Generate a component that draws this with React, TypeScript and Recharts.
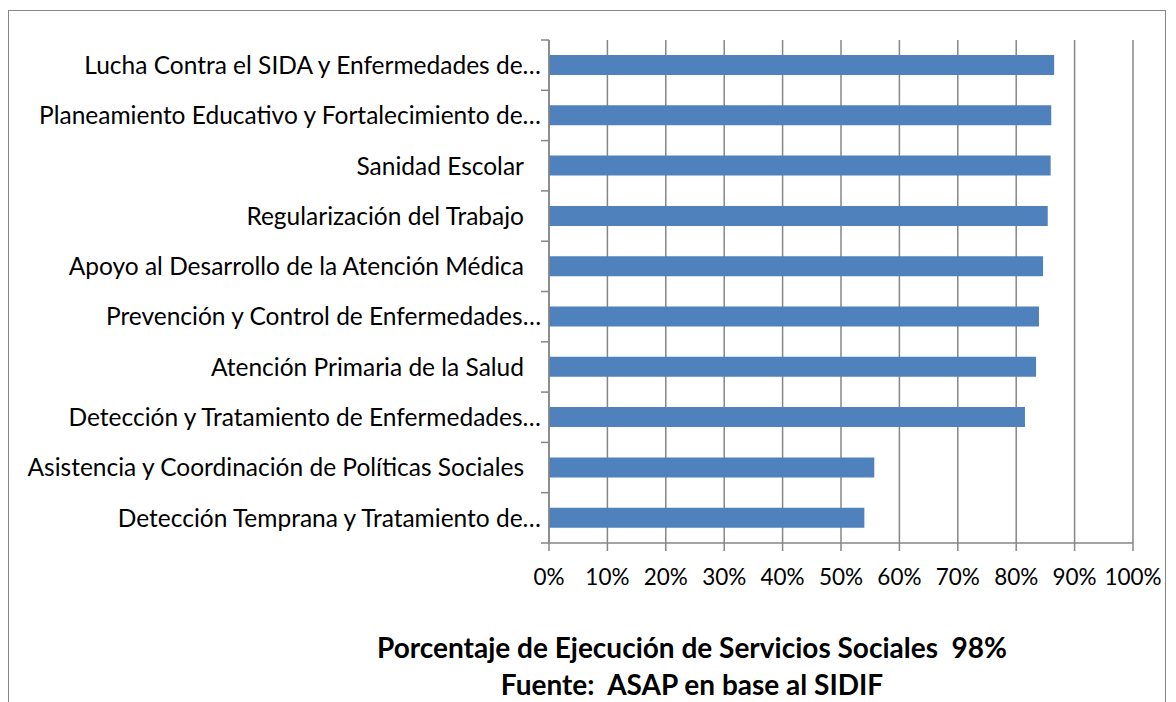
import * as React from 'react';
import { Bar, BarChart, CartesianGrid, XAxis, YAxis } from 'recharts';

// categories top to bottom, as the chart shows them
const categories = [
  'Lucha Contra el SIDA y Enfermedades de…',
  'Planeamiento Educativo y Fortalecimiento de…',
  'Sanidad Escolar',
  'Regularización del Trabajo',
  'Apoyo al Desarrollo de la Atención Médica',
  'Prevención y Control de Enfermedades…',
  'Atención Primaria de la Salud',
  'Detección y Tratamiento de Enfermedades…',
  'Asistencia y Coordinación de Políticas Sociales',
  'Detección Temprana y Tratamiento de…',
];

// execution share (0..1)
const execution = [0.865, 0.86, 0.859, 0.854, 0.846, 0.839, 0.834, 0.815, 0.557, 0.54];

const xTicks = [0, 0.1, 0.2, 0.3, 0.4, 0.5, 0.6, 0.7, 0.8, 0.9, 1];

const title = 'Porcentaje de Ejecución de Servicios Sociales  98%';
const subtitle = 'Fuente:  ASAP en base al SIDIF';

const data = categories.map((name, i) => ({ name, value: execution[i] }));

const FONT = 'Lato, "Open Sans", sans-serif';
const GREY = '#868686';

function CategoryTick(props: any) {
  const { x, y, payload, index, visibleTicksCount } = props;
  const half = payload.offset || 25;
  const label = String(payload.value);
  const truncated = label.endsWith('…');
  const isLast = index === visibleTicksCount - 1;
  return (
    <g>
      <line x1={x - 8} x2={x} y1={y - half} y2={y - half} stroke={GREY} strokeWidth={1.5} />
      {isLast && (
        <line x1={x - 8} x2={x} y1={y + half} y2={y + half} stroke={GREY} strokeWidth={1.5} />
      )}
      <text
        x={truncated ? x - 8 : x - 25}
        y={y}
        dy="0.36em"
        textAnchor="end"
        fill="#000"
        fontSize={24.5}
        fontFamily={FONT}
      >
        {label}
      </text>
    </g>
  );
}

export default function App(): React.JSX.Element {
  return (
    <div
      style={{
        position: 'absolute',
        left: 0,
        top: 0,
        width: 1176,
        height: 702,
        overflow: 'hidden',
        background: '#fff',
        fontFamily: FONT,
      }}
    >
      <div
        style={{
          position: 'absolute',
          left: 8,
          top: 10,
          width: 1158,
          height: 720,
          border: `1.5px solid ${GREY}`,
          boxSizing: 'border-box',
        }}
      />
      <div style={{ position: 'absolute', left: 0, top: 0 }}>
        <BarChart
          width={1176}
          height={702}
          data={data}
          layout="vertical"
          margin={{ top: 40, right: 43, bottom: 119, left: 0 }}
          barSize={20}
        >
          <CartesianGrid horizontal={false} vertical stroke={GREY} strokeWidth={1.5} />
          <XAxis
            type="number"
            domain={[0, 1]}
            ticks={xTicks}
            tickFormatter={(v: number) => `${Math.round(v * 100)}%`}
            height={40}
            tickSize={8}
            tickMargin={18}
            axisLine={{ stroke: GREY, strokeWidth: 1.5 }}
            tickLine={{ stroke: GREY, strokeWidth: 1.5 }}
            tick={{ fill: '#000', fontSize: 22.5, fontFamily: FONT }}
            interval={0}
          />
          <YAxis
            type="category"
            dataKey="name"
            width={549}
            tickSize={0}
            tickMargin={0}
            axisLine={{ stroke: GREY, strokeWidth: 1.5 }}
            tickLine={false}
            tick={<CategoryTick />}
            interval={0}
          />
          <Bar dataKey="value" fill="#4F81BD" isAnimationActive={false} />
        </BarChart>
      </div>
      <div
        style={{
          position: 'absolute',
          left: 292,
          width: 800,
          top: 630,
          textAlign: 'center',
          fontWeight: 700,
          fontSize: 28,
          whiteSpace: 'pre',
          color: '#000',
        }}
      >
        {title}
      </div>
      <div
        style={{
          position: 'absolute',
          left: 292,
          width: 800,
          top: 667,
          textAlign: 'center',
          fontWeight: 700,
          fontSize: 28,
          whiteSpace: 'pre',
          color: '#000',
        }}
      >
        {subtitle}
      </div>
    </div>
  );
}
